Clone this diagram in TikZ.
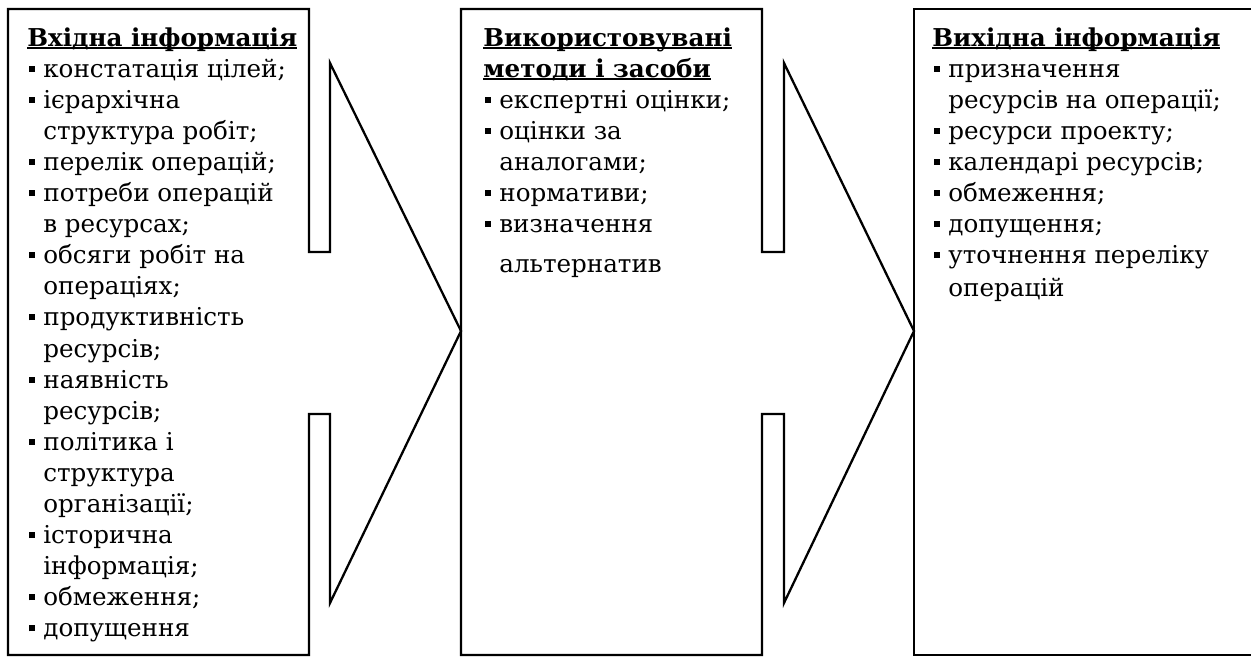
\documentclass[tikz,border=0pt]{standalone}
\usepackage{fontspec}
\setmainfont{DejaVu Serif}
\usetikzlibrary{positioning}
\tikzset{blk/.style={line width=1.3pt,line join=miter},
  txt/.style={anchor=north west,inner sep=0pt,align=left,font=\fontsize{14}{17.7}\selectfont}}
\newcommand{\bul}{\hspace*{0.04cm}\rule[0.11cm]{0.12cm}{0.12cm}\hspace*{0.16cm}}
\newcommand{\ind}{\hspace*{0.32cm}}
\newcommand{\hdr}[1]{{\bfseries\setbox0\hbox{#1}\rlap{\rule[-0.06cm]{\wd0}{0.035cm}}\box0}}

\begin{document}
\begin{tikzpicture}[x=0.02cm,y=-0.02cm]
    \useasboundingbox (0,0) rectangle (1251,657);

    % boxes with the arrows
    \draw[blk] (309,252) -- (330,252) -- (330,63) -- (461,331) -- (330,603) -- (330,414) -- (309,414)
        -- (309,655) -- (8,655) -- (8,9) -- (309,9) -- cycle;
    \draw[blk] (762,252) -- (784,252) -- (784,63) -- (914,331) -- (784,603) -- (784,414) -- (762,414)
        -- (762,655) -- (461,655) -- (461,9) -- (762,9) -- cycle;
    \draw[blk] (1260,9) -- (914,9) -- (914,655) -- (1260,655);

    \node[txt] (inp) at (27,27) {\hdr{Вхідна інформація}\\
        \bul констатація цілей;\\
        \bul ієрархічна\\
        \ind структура робіт;\\
        \bul перелік операцій;\\
        \bul потреби операцій\\
        \ind в ресурсах;\\
        \bul обсяги робіт на\\
        \ind операціях;\\
        \bul продуктивність\\
        \ind ресурсів;\\
        \bul наявність\\
        \ind ресурсів;\\
        \bul політика і\\
        \ind структура\\
        \ind організації;\\
        \bul історична\\
        \ind інформація;\\
        \bul обмеження;\\
        \bul допущення};

    \node[txt] (meth) at (483,27) {\hdr{Використовувані}\\
        \hdr{методи і засоби}\\
        \bul експертні оцінки;\\
        \bul оцінки за\\
        \ind аналогами;\\
        \bul нормативи;\\
        \bul визначення\\[0.18cm]
        \ind альтернатив};

    \node[txt] (outp) at (932,27) {\hdr{Вихідна інформація}\\
        \bul призначення\\
        \ind ресурсів на операції;\\
        \bul ресурси проекту;\\
        \bul календарі ресурсів;\\
        \bul обмеження;\\
        \bul допущення;\\
        \bul уточнення переліку\\[0.04cm]
        \ind операцій};
\end{tikzpicture}
\end{document}
